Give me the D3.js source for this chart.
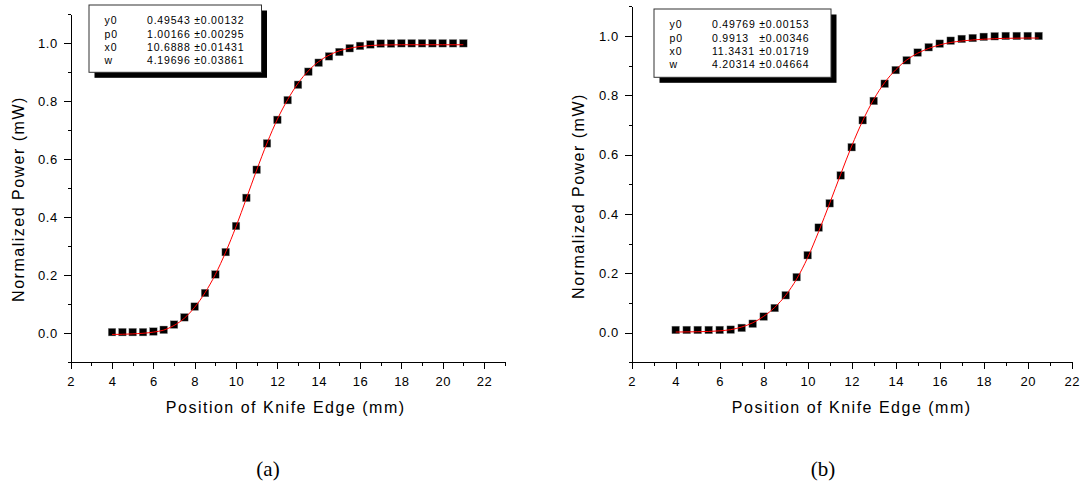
<!DOCTYPE html>
<html>
<head>
<meta charset="utf-8">
<script src="https://cdn.jsdelivr.net/npm/d3@7/dist/d3.min.js"></script>
<style>
body{margin:0;background:#fff}
text{font-family:"Liberation Sans",Arial,sans-serif;fill:#000}
</style>
</head>
<body>
<div id="container"></div>
<script>
// panel (a) measured points
const xA = [4,4.5,5,5.5,6,6.5,7,7.5,8,8.5,9,9.5,10,10.5,11,11.5,12,12.5,13,13.5,14,14.5,15,15.5,16,16.5,17,17.5,18,18.5,19,19.5,20,20.5,21];
const yA = [0.004,0.004,0.004,0.004,0.006,0.012,0.030,0.055,0.092,0.139,0.203,0.280,0.370,0.467,0.564,0.655,0.736,0.804,0.857,0.902,0.933,0.955,0.970,0.983,0.991,0.996,0.999,0.999,1.000,1.000,1.000,1.000,1.000,1.000,1.000];
// panel (a) fitted curve
const fitXA = [4,5,6,6.5,7,7.5,8,8.5,9,9.5,10,10.5,11,11.5,12,12.5,13,13.5,14,14.5,15,15.5,16,17,18,19,20,21];
const fitYA = [-0.004,-0.002,0.004,0.011,0.027,0.052,0.090,0.140,0.203,0.280,0.368,0.465,0.563,0.656,0.738,0.806,0.862,0.905,0.937,0.959,0.974,0.983,0.989,0.994,0.995,0.995,0.995,0.995];
const paramsA = [["y0","0.49543","±0.00132"],["p0","1.00166","±0.00295"],["x0","10.6888","±0.01431"],["w","4.19696","±0.03861"]];

// panel (b) measured points
const xB = [4,4.5,5,5.5,6,6.5,7,7.5,8,8.5,9,9.5,10,10.5,11,11.5,12,12.5,13,13.5,14,14.5,15,15.5,16,16.5,17,17.5,18,18.5,19,19.5,20,20.5];
const yB = [0.009,0.009,0.009,0.009,0.009,0.010,0.016,0.030,0.054,0.083,0.126,0.187,0.261,0.354,0.436,0.530,0.625,0.716,0.781,0.839,0.885,0.918,0.944,0.962,0.974,0.984,0.990,0.993,0.997,0.999,1.000,1.000,1.000,1.000];
const fitXB = [4,5,6,6.5,7,7.5,8,8.5,9,9.5,10,10.5,11,11.5,12,12.5,13,13.5,14,14.5,15,15.5,16,16.5,17,18,19,20,20.5];
const fitYB = [0.002,0.003,0.006,0.010,0.019,0.033,0.055,0.085,0.126,0.181,0.253,0.341,0.436,0.534,0.629,0.714,0.786,0.843,0.886,0.919,0.942,0.958,0.970,0.978,0.983,0.989,0.992,0.993,0.993];
const paramsB = [["y0","0.49769","±0.00153"],["p0","0.9913","±0.00346"],["x0","11.3431","±0.01719"],["w","4.20314","±0.04664"]];

const xMajor = [2,4,6,8,10,12,14,16,18,20,22];
const yMajor = [0,0.2,0.4,0.6,0.8,1.0];
const yMinor = [-0.1,0.1,0.3,0.5,0.7,0.9,1.1];

let svg = d3.select("#container")
  .append("svg")
  .attr("width",1083)
  .attr("height",487);

function drawPanel(p){
  let x = d3.scaleLinear().domain([2,p.xMax]).range([p.left,p.right]);
  let y = d3.scaleLinear().domain([-0.1,1.1]).range([362.3,p.top]);
  let g = svg.append("g");

  // x axis
  g.append("g")
    .attr("transform","translate(0,"+y(-0.1)+")")
    .call(d3.axisBottom(x).tickValues(d3.range(3,p.xMax+0.5,2)).tickSize(4).tickSizeOuter(0).tickFormat(""));
  g.append("g")
    .attr("transform","translate(0,"+y(-0.1)+")")
    .call(d3.axisBottom(x).tickValues(xMajor.filter(v=>v<=p.xMax)).tickSize(7).tickSizeOuter(0).tickPadding(7).tickFormat(d3.format("d")));

  // y axis
  g.append("g")
    .attr("transform","translate("+x(2)+",0)")
    .call(d3.axisLeft(y).tickValues(yMinor).tickSize(3).tickSizeOuter(0).tickFormat(""));
  g.append("g")
    .attr("transform","translate("+x(2)+",0)")
    .call(d3.axisLeft(y).tickValues(yMajor).tickSize(7).tickSizeOuter(0).tickPadding(6).tickFormat(d3.format(".1f")));

  g.selectAll(".tick text")
    .attr("font-size",13)
    .attr("font-family","Liberation Sans, Arial, sans-serif")
    .style("letter-spacing","0.5px");
  g.selectAll(".domain, .tick line")
    .attr("stroke","#000")
    .attr("stroke-width",1.1)
    .attr("shape-rendering","crispEdges");

  // axis titles
  g.append("text")
    .text("Position of Knife Edge (mm)")
    .attr("x",(x(2)+x(p.xMax))/2+p.titleShift)
    .attr("y",413)
    .attr("text-anchor","middle")
    .attr("font-size",16)
    .style("letter-spacing","1.5px");
  g.append("text")
    .text("Normalized Power (mW)")
    .attr("transform","translate("+p.yTitleX+","+p.yTitleY+") rotate(-90)")
    .attr("text-anchor","middle")
    .attr("font-size",16)
    .style("letter-spacing","1.5px");

  // markers
  g.selectAll(".pt").data(p.xs).enter()
    .append("rect")
    .attr("class","pt")
    .attr("x",d=>x(d)-3.8)
    .attr("y",(d,i)=>y(p.ys[i])-3.8)
    .attr("width",7.6)
    .attr("height",7.6)
    .attr("fill","#000")
    .attr("stroke","#999")
    .attr("stroke-width",0.4);

  // fitted curve
  let line = d3.line()
    .x((d,i)=>x(p.fitX[i]))
    .y(d=>y(d))
    .curve(d3.curveMonotoneX);
  g.append("path")
    .datum(p.fitY)
    .attr("d",line)
    .attr("fill","none")
    .attr("stroke","#ff0000")
    .attr("stroke-width",1);

  // parameter box
  let b = p.box;
  g.append("rect")
    .attr("x",b.x+5.5).attr("y",b.y+5.5)
    .attr("width",b.w).attr("height",b.h)
    .attr("fill","#000");
  g.append("rect")
    .attr("x",b.x).attr("y",b.y)
    .attr("width",b.w).attr("height",b.h)
    .attr("fill","#fff")
    .attr("stroke","#333")
    .attr("stroke-width",1);
  let rows = g.selectAll(".prow").data(p.params).enter()
    .append("g").attr("class","prow");
  rows.append("text")
    .text(d=>d[0])
    .attr("x",b.x+15.6)
    .attr("y",(d,i)=>b.y+19.2+i*13.3)
    .attr("font-size",10.5)
    .style("letter-spacing","0.8px");
  rows.append("text")
    .text(d=>d[1])
    .attr("x",b.x+58)
    .attr("y",(d,i)=>b.y+19.2+i*13.3)
    .attr("font-size",10.5)
    .style("letter-spacing","0.8px");
  rows.append("text")
    .text(d=>d[2])
    .attr("x",b.x+105.2)
    .attr("y",(d,i)=>b.y+19.2+i*13.3)
    .attr("font-size",10.5)
    .style("letter-spacing","0.8px");

  // caption
  svg.append("text")
    .text(p.caption)
    .attr("x",p.capX)
    .attr("y",476)
    .attr("text-anchor","middle")
    .attr("font-size",21)
    .style("font-family","Liberation Serif, Times New Roman, serif");
}

drawPanel({xs:xA,ys:yA,fitX:fitXA,fitY:fitYA,params:paramsA,
  xMax:23,left:70.7,right:504.7,top:14.3,titleShift:-2,
  yTitleX:24,yTitleY:199,
  box:{x:89,y:5,w:172.5,h:67.3},caption:"(a)",capX:268});
drawPanel({xs:xB,ys:yB,fitX:fitXB,fitY:fitYB,params:paramsB,
  xMax:22,left:631.7,right:1071.7,top:6.3,titleShift:0,
  yTitleX:584,yTitleY:196,
  box:{x:654,y:9,w:177,h:68.3},caption:"(b)",capX:823});
</script>
</body>
</html>
